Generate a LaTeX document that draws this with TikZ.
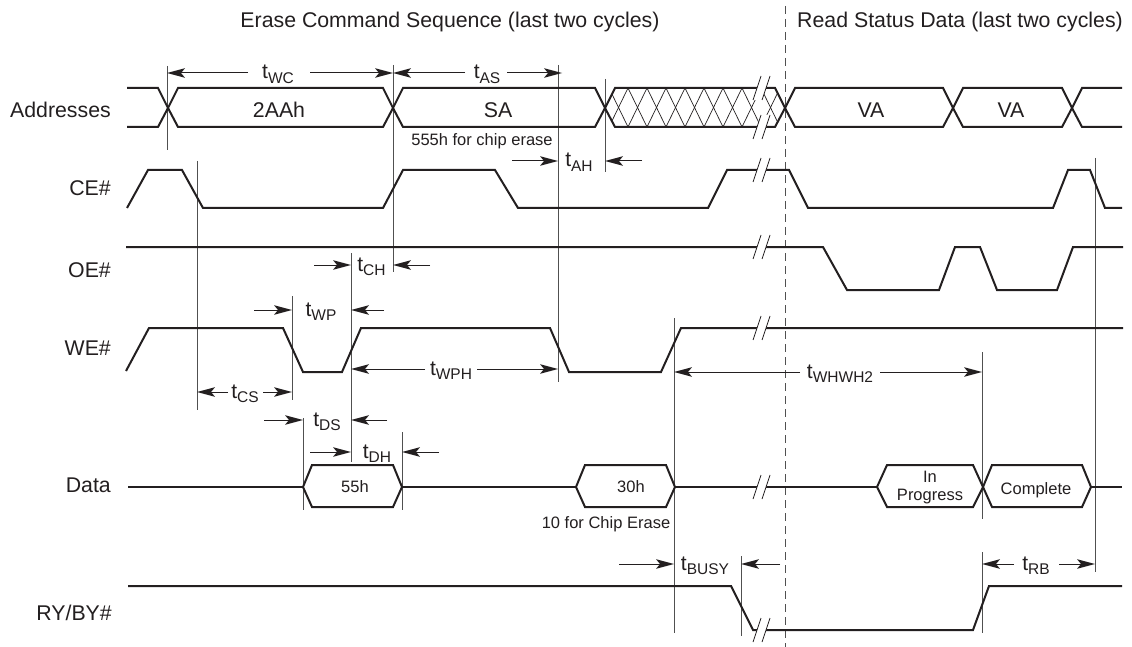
\documentclass[tikz,border=0pt]{standalone}
\usepackage{fontspec}
\setmainfont{Liberation Sans}
\usetikzlibrary{arrows.meta}
\definecolor{ink}{HTML}{231F20}
\definecolor{refc}{HTML}{505050}
\newcommand\tsub[1]{t\raisebox{-4.5pt}{\fontsize{15.5}{16}\selectfont #1}}
\newcommand\brkmark[2]{%
  \fill[white] (#1-9,#2+12) -- (#1-1,#2-12) -- (#1+8,#2-12) -- (#1,#2+12) -- cycle;
  \draw[thinln] (#1-9,#2+12) -- (#1-1,#2-12) (#1,#2+12) -- (#1+8,#2-12);}
% dimension arrow: from x1 to x2 at height y, with a filled barbed head at x2
\newcommand\dimarrow[3]{%
  \pgfmathsetmacro\dsgn{(#3>#1)?1:-1}%
  \draw[dimln] (#1,#2) -- ({#3-\dsgn*10},#2);
  \fill[ink] (#3,#2) -- ({#3-\dsgn*18},{#2-4.8}) -- ({#3-\dsgn*14},#2) -- ({#3-\dsgn*18},{#2+4.8}) -- cycle;}
\tikzset{
  sig/.style={line width=2pt, draw=ink, line join=miter},
  thinln/.style={line width=0.8pt, draw=ink},
  refl/.style={line width=0.9pt, draw=refc},
  dimln/.style={line width=1pt, draw=ink},
  big/.style={anchor=base, inner sep=0pt, text=ink, font=\fontsize{21.3}{23}\selectfont},
  small/.style={anchor=base, inner sep=0pt, text=ink, font=\fontsize{16.5}{18}\selectfont},
  siglbl/.style={anchor=base east, inner sep=0pt, text=ink, font=\fontsize{21.3}{23}\selectfont},
  tlbl/.style={anchor=base, inner sep=0pt, text=ink, font=\fontsize{21}{23}\selectfont}}
\begin{document}
\begin{tikzpicture}[x=1pt,y=-1pt]
\useasboundingbox (0,0) rectangle (1132,647);
\fill[white] (0,0) rectangle (1132,647);

% headers
\node[big] (h1) at (450,28) {Erase Command Sequence (last two cycles)};
\node[big] (h2) at (960,28) {Read Status Data (last two cycles)};
\draw[line width=0.9pt, draw=refc, dash pattern=on 8pt off 5pt] (785,6) -- (785,647);

% signal labels
\node[siglbl] (lA) at (111,118) {Addresses};
\node[siglbl] (lCE) at (111,195.5) {CE\#};
\node[siglbl] (lOE) at (111,277.5) {OE\#};
\node[siglbl] (lWE) at (111,355.5) {WE\#};
\node[siglbl] (lD) at (111,492.5) {Data};
\node[siglbl] (lR) at (112,620.5) {RY/BY\#};

% reference lines
\draw[refl] (167,66) -- (167,150);
\draw[refl] (197,161) -- (197,410);
\draw[refl] (393,65) -- (393,272);
\draw[refl] (558,65) -- (558,382);
\draw[refl] (605,79) -- (605,172);
\draw[refl] (292,296) -- (292,400);
\draw[refl] (351,253) -- (351,462);
\draw[refl] (303,418) -- (303,510);
\draw[refl] (402,432) -- (402,510);
\draw[refl] (674,318) -- (674,633);
\draw[refl] (741,556) -- (741,636);
\draw[refl] (982,352) -- (982,519);
\draw[refl] (982,552) -- (982,633);
\draw[refl] (1095,158) -- (1095,572);

% Addresses
\draw[sig] (127,88)--(158,88)--(168,108)--(158,127)--(127,127);
\draw[sig] (168,108)--(178,88)--(383,88)--(393,108)--(383,127)--(178,127)--cycle;
\draw[sig] (393,108)--(403,88)--(595,88)--(605,108)--(595,127)--(403,127)--cycle;
\begin{scope}
  \clip (605,108)--(615,88)--(775,88)--(785,108)--(775,127)--(615,127)--cycle;
  \foreach \k in {-1,...,10} {
    \draw[line width=0.7pt, draw=ink] (609+19*\k,127)--(628+19*\k,88)--(647+19*\k,127);
  }
\end{scope}
\draw[sig] (605,108)--(615,88)--(775,88)--(785,108)--(775,127)--(615,127)--cycle;
\draw[sig] (785,108)--(795,88)--(943,88)--(953,108)--(943,127)--(795,127)--cycle;
\draw[sig] (953,108)--(963,88)--(1062,88)--(1072,108)--(1062,127)--(963,127)--cycle;
\draw[sig] (1122,88)--(1082,88)--(1072,108)--(1082,127)--(1122,127);
\brkmark{762}{88}
\brkmark{762}{127}
\node[big] (a1) at (279,118) {2AAh};
\node[big] (a2) at (498,118) {SA};
\node[big] (a3) at (871,118) {VA};
\node[big] (a4) at (1011,118) {VA};
\node[small] (n1) at (482,146) {555h for chip erase};

% CE#
\draw[sig] (127,208)--(148,170)--(182,170)--(203,208)--(383,208)--(403,170)--(495,170)--(518,208)--(708,208)--(727,170)--(789,170)--(808,208)--(1053,208)--(1068,170)--(1090,170)--(1105,208)--(1122,208);
\brkmark{762}{170}

% OE#
\draw[sig] (126,247)--(823,247)--(847,290)--(939,290)--(955,247)--(980,247)--(997,290)--(1057,290)--(1073,247)--(1123,247);
\brkmark{762}{247}

% WE#
\draw[sig] (126,371)--(149,328)--(283,328)--(303,372)--(342,372)--(361,328)--(550,328)--(569,372)--(661,372)--(681,328)--(1123,328);
\brkmark{762}{328}

% Data
\draw[sig] (128,487)--(303,487);
\draw[sig] (303,487)--(312,465)--(393,465)--(402,487)--(393,507)--(312,507)--cycle;
\draw[sig] (402,487)--(576,487);
\draw[sig] (576,487)--(585,465)--(666,465)--(675,487)--(666,507)--(585,507)--cycle;
\draw[sig] (675,487)--(877,487);
\draw[sig] (877,487)--(887,465)--(973,465)--(983,487)--(973,507)--(887,507)--cycle;
\draw[sig] (983,487)--(992,465)--(1082,465)--(1091,487)--(1082,507)--(992,507)--cycle;
\draw[sig] (1091,487)--(1122,487);
\brkmark{762}{487}
\node[small] (d1) at (355,492) {55h};
\node[small] (d2) at (631,492) {30h};
\node[small] (d3) at (930,482) {In};
\node[small] (d4) at (930,500) {Progress};
\node[small] (d5) at (1036,494) {Complete};
\node[small] (n2) at (606,528) {10 for Chip Erase};

% RY/BY#
\draw[sig] (128,586)--(731,586)--(753,630)--(973,630)--(989,586)--(1122,586);
\brkmark{762}{630}

% timing labels
\node[tlbl] (twc) at (278,79) {\tsub{WC}};
\node[tlbl] (tas) at (487,79) {\tsub{AS}};
\node[tlbl] (tah) at (579,167) {\tsub{AH}};
\node[tlbl] (tch) at (371.5,271) {\tsub{CH}};
\node[tlbl] (twp) at (321,316) {\tsub{WP}};
\node[tlbl] (twph) at (451,375) {\tsub{WPH}};
\node[tlbl] (tcs) at (245,398) {\tsub{CS}};
\node[tlbl] (tds) at (327,426) {\tsub{DS}};
\node[tlbl] (tdh) at (377,458) {\tsub{DH}};
\node[tlbl] (twh) at (840,378) {\tsub{WHWH2}};
\node[tlbl] (tbusy) at (705,570) {\tsub{BUSY}};
\node[tlbl] (trb) at (1036,570) {\tsub{RB}};

% dimension arrows
\dimarrow{248}{73}{167}
\dimarrow{310}{73}{393}
\dimarrow{465}{73}{393}
\dimarrow{507}{73}{562}
\dimarrow{512}{161}{558}
\dimarrow{642}{161}{605}
\dimarrow{314}{265}{351}
\dimarrow{430}{265}{393}
\dimarrow{254}{310}{292}
\dimarrow{384}{310}{351}
\dimarrow{425}{369}{351}
\dimarrow{477}{369}{558}
\dimarrow{228}{392}{197}
\dimarrow{263}{392}{292}
\dimarrow{264}{420}{303}
\dimarrow{387}{420}{351}
\dimarrow{310}{452}{351}
\dimarrow{439}{452}{402}
\dimarrow{800}{372}{674}
\dimarrow{880}{372}{982}
\dimarrow{619}{564}{674}
\dimarrow{780}{564}{741}
\dimarrow{1014}{564}{982}
\dimarrow{1059}{564}{1095}
\end{tikzpicture}
\end{document}
